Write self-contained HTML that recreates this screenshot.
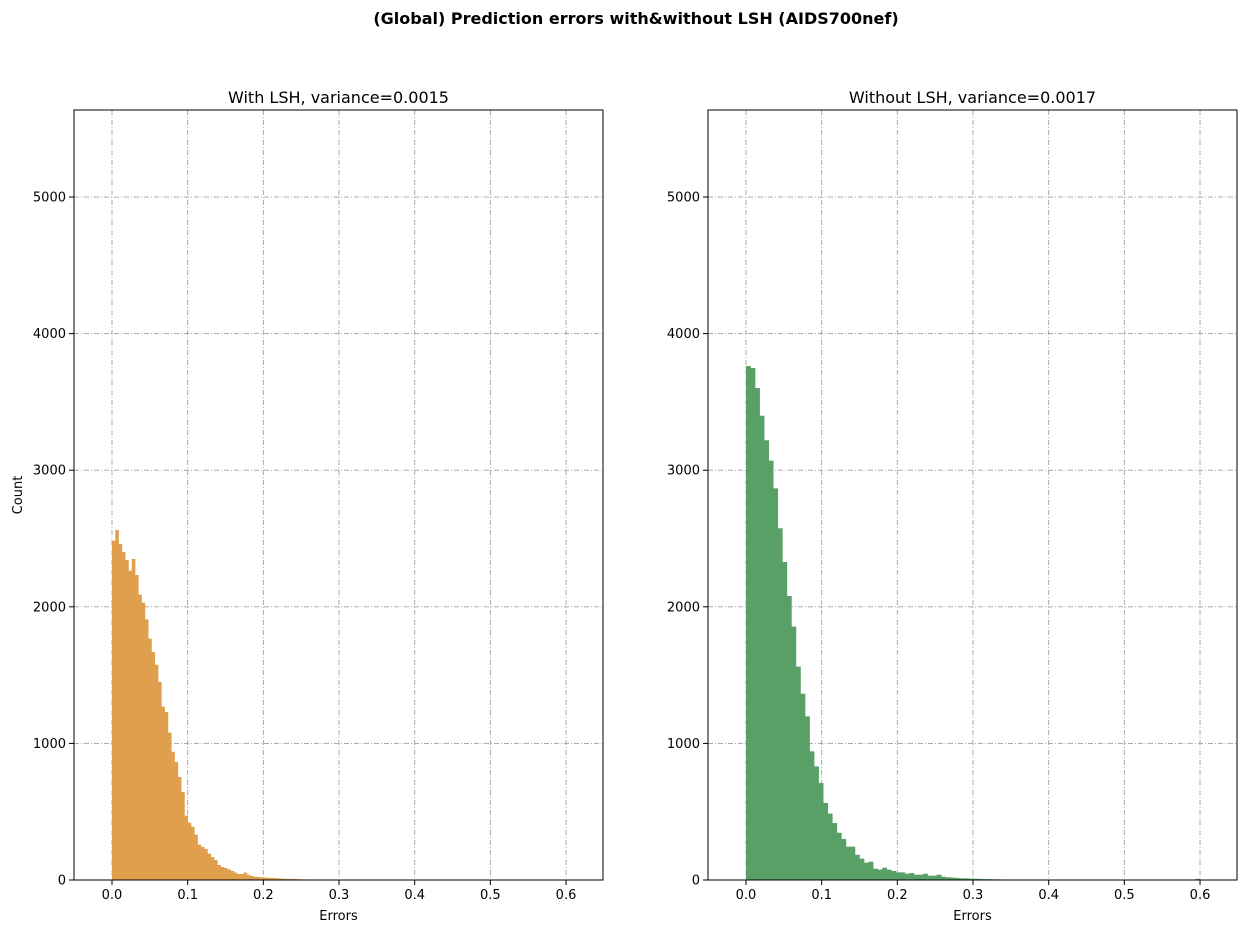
<!DOCTYPE html>
<html><head><meta charset="utf-8"><style>
body{margin:0;background:#fff;font-family:"Liberation Sans",sans-serif}
svg text{font-family:"DejaVu Sans","Liberation Sans",sans-serif}
</style></head><body>
<svg id="fig" width="1246" height="933" xmlns="http://www.w3.org/2000/svg">
<text x="636" y="24" text-anchor="middle" font-size="16" font-weight="bold">(Global) Prediction errors with&amp;without LSH (AIDS700nef)</text>
</svg>
<script>
const leftCounts=[2484,2562,2460,2401,2343,2264,2350,2233,2089,2030,1908,1767,1669,1576,1450,1269,1230,1079,939,864,754,644,471,420,390,332,259,242,227,193,168,146,110,95,88,78,66,54,44,44,54,37,29,24,22,20,18,17,15,14,12,10,9,8,8,7,6,5,4,4,3,3,2,2,2,1,1,1,0,0,1,0,1,0,0,1,0,0,0,0,1];
const leftBinWidth=0.00435;
const rightCounts=[3763,3748,3602,3399,3219,3070,2867,2575,2328,2079,1855,1562,1364,1198,942,832,710,564,486,417,346,300,244,244,185,156,127,134,83,76,90,76,66,56,56,46,51,39,39,46,32,32,39,24,20,18,15,12,12,10,9,8,6,6,5,5,4,4,3,3,3,2,2,2,2,1,1,1,1,1,1,0,0,0,0,0,0,0,0,0,0,0,0,0,0,0,0,0,0,0,0,0,0,0,0,0,0,0,0,8];
const rightBinWidth=0.006;
const xTicks=[0,0.1,0.2,0.3,0.4,0.5,0.6];
const xTickLabels=["0.0","0.1","0.2","0.3","0.4","0.5","0.6"];
const yTicks=[0,1000,2000,3000,4000,5000];
const yMax=5637;
const NS="http://www.w3.org/2000/svg";
const fig=document.getElementById('fig');
function mk(tag,attrs,parent){const e=document.createElementNS(NS,tag);for(const k in attrs)e.setAttribute(k,attrs[k]);(parent||fig).appendChild(e);return e;}
function panel(name,left,counts,bw,color,title,showYLabel){
  const top=110,bottom=880,right=left+529;
  const x0=left+38; // pixel of 0.0
  const px=756.7; // pixels per unit
  const sx=v=>x0+v*px;
  const sy=v=>bottom-(v/yMax)*(bottom-top);
  const g=mk('g',{});
  
  
  // grid
  xTicks.forEach(t=>{const l=mk('line',{x1:sx(t),x2:sx(t),y1:top,y2:bottom,stroke:'#a0a0a0','stroke-dasharray':'5,2,1,2','stroke-width':0.9},g);});
  yTicks.forEach(t=>{const l=mk('line',{x1:left,x2:right,y1:sy(t),y2:sy(t),stroke:'#a0a0a0','stroke-dasharray':'5,2,1,2','stroke-width':0.9},g);});
  // bars
  counts.forEach((c,i)=>{if(c<=0)return;const x1=sx(i*bw),x2=sx((i+1)*bw);const r=mk('rect',{x:x1,y:sy(c),width:x2-x1+0.3,height:bottom-sy(c),fill:color},g);});
  // frame
  const f=mk('rect',{x:left,y:top,width:right-left,height:bottom-top,fill:'none',stroke:'#000','stroke-width':1},g);
  
  xTicks.forEach((t,i)=>{mk('line',{x1:sx(t),x2:sx(t),y1:bottom,y2:bottom+5,stroke:'#000'},g);const tx=mk('text',{x:sx(t),y:bottom+19,'text-anchor':'middle','font-size':13},g);tx.textContent=xTickLabels[i];});
  yTicks.forEach(t=>{mk('line',{x1:left-5,x2:left,y1:sy(t),y2:sy(t),stroke:'#000'},g);const tx=mk('text',{x:left-8,y:sy(t)+4.5,'text-anchor':'end','font-size':13},g);tx.textContent=String(t);});
  const tt=mk('text',{x:(left+right)/2,y:103,'text-anchor':'middle','font-size':16},g);tt.textContent=title;
  
  const xl=mk('text',{x:(left+right)/2,y:920,'text-anchor':'middle','font-size':13},g);xl.textContent='Errors';
  
  if(showYLabel){const yl=mk('text',{x:22,y:(top+bottom)/2,'text-anchor':'middle','font-size':13,transform:`rotate(-90 22 ${(top+bottom)/2})`},g);yl.textContent='Count';}
}
panel('with-lsh-panel',74,leftCounts,leftBinWidth,'#e09f4d','With LSH, variance=0.0015',true);
panel('without-lsh-panel',708,rightCounts,rightBinWidth,'#58a066','Without LSH, variance=0.0017',false);
</script>
</body></html>
